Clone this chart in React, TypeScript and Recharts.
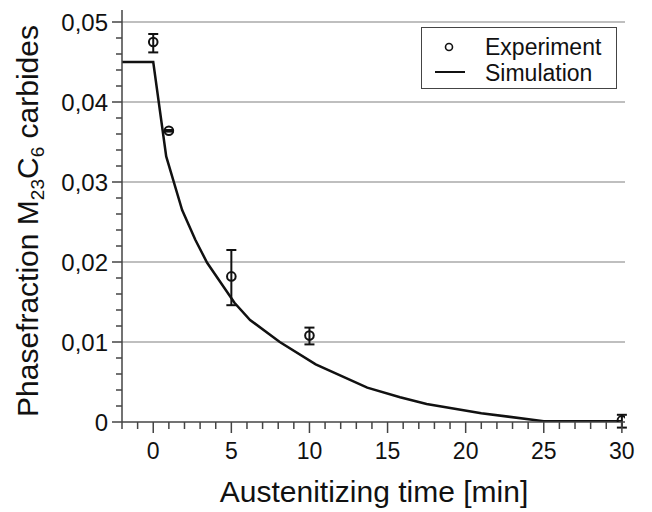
import React from 'react';
import { ComposedChart, Line, Scatter, XAxis, YAxis, CartesianGrid, ErrorBar, Legend } from 'recharts';

const FONT = '"Liberation Sans", Arial, Helvetica, sans-serif';

// Experiment points: time [min], phase fraction, error [down, up]
const expTimes = [0, 1, 5, 10, 30];
const expValues = [0.0475, 0.0364, 0.0182, 0.0108, 0.0002];
const expErrDown = [0.0013, 0.0001, 0.0036, 0.0011, 0.0009];
const expErrUp = [0.0010, 0.0001, 0.0033, 0.0010, 0.0007];

// Simulation curve
const simTimes = [-2, 0, 0.83, 1.85, 2.7, 3.45, 5.2, 6.2, 8.1, 10.4, 13.7, 15.8, 17.5, 21, 25, 30];
const simValues = [0.045, 0.045, 0.0332, 0.0265, 0.02275, 0.0199, 0.0149, 0.01275, 0.0100, 0.0072, 0.0043, 0.0031, 0.00225, 0.0011, 0.0001, 0.0001];

const xTicks = [-2, -1, 0, 1, 2, 3, 4, 5, 6, 7, 8, 9, 10, 11, 12, 13, 14, 15, 16, 17, 18, 19, 20, 21, 22, 23, 24, 25, 26, 27, 28, 29, 30];
const yTicks = [0, 0.002, 0.004, 0.006, 0.008, 0.01, 0.012, 0.014, 0.016, 0.018, 0.02, 0.022, 0.024, 0.026, 0.028, 0.03, 0.032, 0.034, 0.036, 0.038, 0.04, 0.042, 0.044, 0.046, 0.048, 0.05];
const yGrid = [0.01, 0.02, 0.03, 0.04, 0.05];

const expData = expTimes.map((x, i) => ({ x, y: expValues[i], err: [expErrDown[i], expErrUp[i]] }));
const simData = simTimes.map((x, i) => ({ x, y: simValues[i] }));

const AXIS = '#444';

const XTick = (props: any) => {
  const { x, y, payload } = props;
  const v = payload.value;
  const major = Math.round(v) % 5 === 0;
  return (
    <g>
      <line x1={x} x2={x} y1={y} y2={y + (major ? 11 : 7)} stroke={AXIS} strokeWidth={1.5} />
      {major && (
        <text x={x} y={y + 37} textAnchor="middle" fontSize={23} fontFamily={FONT} fill="#111">
          {v}
        </text>
      )}
    </g>
  );
};

const YTick = (props: any) => {
  const { x, y, payload } = props;
  const v = payload.value;
  const major = Math.round(v * 1000) % 10 === 0;
  const label = v === 0 ? '0' : v.toFixed(2).replace('.', ',');
  return (
    <g>
      <line x1={x} x2={x - (major ? 10 : 6)} y1={y} y2={y} stroke={AXIS} strokeWidth={1.5} />
      {major && (
        <text x={x - 14} y={y + 8.5} textAnchor="end" fontSize={24} fontFamily={FONT} fill="#111">
          {label}
        </text>
      )}
    </g>
  );
};

const XTitle = () => (
  <text x={374} y={502} textAnchor="middle" fontSize={30} fontFamily={FONT} fill="#111">
    Austenitizing time [min]
  </text>
);

const YTitle = () => (
  <text
    x={38}
    y={221}
    transform="rotate(-90, 38, 221)"
    textAnchor="middle"
    fontSize={30}
    fontFamily={FONT}
    fill="#111"
  >
    Phasefraction M
    <tspan fontSize={19} dy={6}>23</tspan>
    <tspan dy={-6}>C</tspan>
    <tspan fontSize={19} dy={6}>6</tspan>
    <tspan dy={-6}> carbides</tspan>
  </text>
);

const ExpShape = (props: any) => {
  const { cx, cy } = props;
  return <circle cx={cx} cy={cy} r={4.3} fill="none" stroke="#111" strokeWidth={2} />;
};

const LegendBox = () => (
  <div
    style={{
      width: 196,
      height: 62,
      boxSizing: 'border-box',
      border: '1.5px solid #444',
      background: '#fff',
    }}
  >
    <svg width={194} height={60} style={{ display: 'block' }}>
      <circle cx={27} cy={19} r={3.5} fill="none" stroke="#111" strokeWidth={1.6} />
      <text x={63} y={27} fontSize={23} fontFamily={FONT} fill="#111">Experiment</text>
      <line x1={13} x2={43} y1={44} y2={44} stroke="#111" strokeWidth={2} />
      <text x={63} y={53} fontSize={23} fontFamily={FONT} fill="#111">Simulation</text>
    </svg>
  </div>
);

export default function App() {
  return (
    <div style={{ position: 'absolute', left: 0, top: 0, width: 652, height: 512, background: '#fff' }}>
      <ComposedChart width={652} height={512} margin={{ top: 10, right: 27, bottom: 0, left: 0 }}>
        <CartesianGrid horizontal vertical={false} horizontalValues={yGrid} stroke="#aaa" strokeWidth={1.5} />
        <XAxis
          type="number"
          dataKey="x"
          domain={[-2, 30.2]}
          ticks={xTicks}
          interval={0}
          allowDataOverflow
          height={90}
          tickSize={0}
          tickMargin={0}
          tickLine={false}
          axisLine={{ stroke: AXIS, strokeWidth: 1.5 }}
          tick={<XTick />}
          label={<XTitle />}
        />
        <YAxis
          type="number"
          domain={[0, 0.0515]}
          ticks={yTicks}
          interval={0}
          allowDataOverflow
          width={122}
          tickSize={0}
          tickMargin={0}
          tickLine={false}
          axisLine={{ stroke: AXIS, strokeWidth: 1.5 }}
          tick={<YTick />}
          label={<YTitle />}
        />
        <Legend
          layout="vertical"
          align="center"
          verticalAlign="middle"
          wrapperStyle={{ left: 421, top: 27, width: 196, height: 62 }}
          content={<LegendBox />}
        />
        <Line
          data={simData}
          dataKey="y"
          type="linear"
          stroke="#111"
          strokeWidth={2.5}
          dot={false}
          activeDot={false}
          isAnimationActive={false}
          name="Simulation"
        />
        <Scatter
          data={expData}
          dataKey="y"
          shape={<ExpShape />}
          isAnimationActive={false}
          name="Experiment"
        >
          <ErrorBar dataKey="err" direction="y" width={5} stroke="#111" strokeWidth={2} isAnimationActive={false} />
        </Scatter>
      </ComposedChart>
    </div>
  );
}
